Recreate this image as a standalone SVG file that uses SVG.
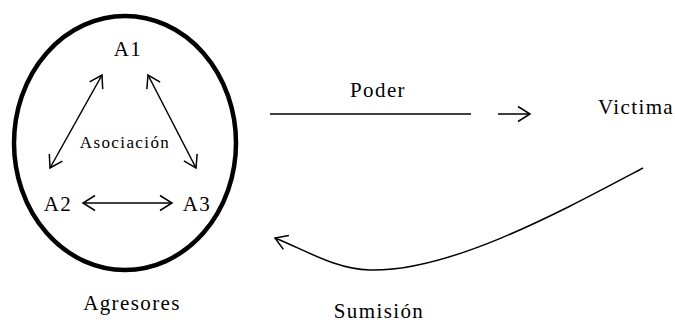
<svg xmlns="http://www.w3.org/2000/svg" width="675" height="324" viewBox="0 0 675 324">
  <style>
    .lbl { font-family: "Liberation Serif", "Times New Roman", serif; font-size: 21px; fill: #000; letter-spacing: 1.4px; text-anchor: middle; }
    .small { font-size: 17px; }
    .edge { fill: none; stroke: #000; stroke-width: 1.5; }
    .ring { fill: none; stroke: #000; stroke-width: 4.5; }
  </style>
  <defs>
    <!-- open chevron arrowhead, reversible for double-ended links -->
    <marker id="head" viewBox="0 0 16 18" refX="14" refY="9" markerWidth="16" markerHeight="18" markerUnits="userSpaceOnUse" orient="auto-start-reverse">
      <path d="M2,1.5 L14,9 L2,16.5" fill="none" stroke="#000" stroke-width="1.5"/>
    </marker>
  </defs>

  <rect width="675" height="324" fill="#fff"/>

  <!-- aggressor group -->
  <g id="agresores">
    <ellipse class="ring" cx="125" cy="143" rx="111" ry="127"/>
    <text class="lbl" x="132" y="310">Agresores</text>
  </g>
  <g id="a1"><text class="lbl" x="128" y="56">A1</text></g>
  <g id="a2"><text class="lbl" x="58" y="211">A2</text></g>
  <g id="a3"><text class="lbl" x="197" y="211">A3</text></g>
  <g id="asociacion"><text class="lbl small" x="125" y="148">Asociación</text></g>

  <!-- target -->
  <g id="victima"><text class="lbl" x="636" y="114">Victima</text></g>

  <!-- connectors -->
  <g id="connectors">
    <line class="edge" x1="102" y1="75" x2="50" y2="168" marker-start="url(#head)" marker-end="url(#head)"/>
    <line class="edge" x1="148" y1="75" x2="196" y2="168" marker-start="url(#head)" marker-end="url(#head)"/>
    <line class="edge" x1="83" y1="203" x2="172" y2="203" marker-start="url(#head)" marker-end="url(#head)"/>

    <line class="edge" x1="270" y1="114" x2="471" y2="114"/>
    <line class="edge" x1="498" y1="114" x2="530" y2="114" marker-end="url(#head)"/>
    <text class="lbl" x="378" y="97">Poder</text>

    <path class="edge" d="M643,168 C560,212 450,272 370,270 C335,269 305,250 275,238" marker-end="url(#head)"/>
    <text class="lbl" x="379" y="318">Sumisión</text>
  </g>
</svg>
